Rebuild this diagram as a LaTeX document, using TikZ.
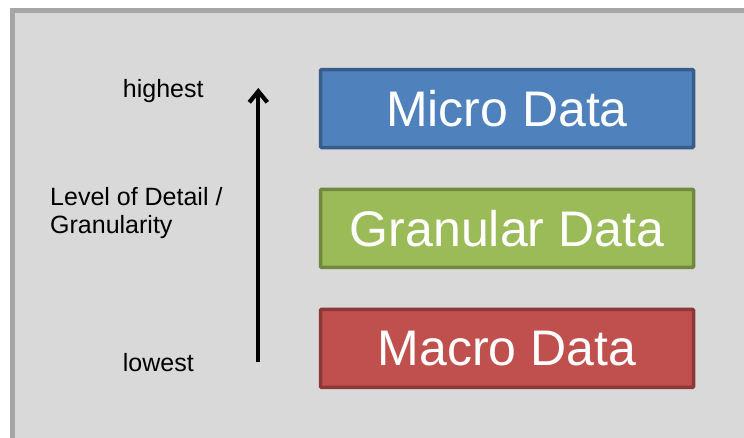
\documentclass[tikz,border=0pt]{standalone}
\usepackage{fontspec}
\setmainfont{Liberation Sans}
\usetikzlibrary{arrows.meta}

\definecolor{panelfill}{HTML}{D9D9D9}
\definecolor{panelline}{HTML}{A6A6A6}
\definecolor{bluefill}{HTML}{4F81BD}
\definecolor{blueline}{HTML}{385D8A}
\definecolor{greenfill}{HTML}{9BBB59}
\definecolor{greenline}{HTML}{71893F}
\definecolor{redfill}{HTML}{C0504D}
\definecolor{redline}{HTML}{8C3836}

\tikzset{
  databox/.style={rectangle, rounded corners=1pt, line width=3.5pt,
    minimum width=373pt, minimum height=78pt, inner sep=0pt,
    text=white, font=\fontsize{50}{56}\selectfont},
  sidelabel/.style={anchor=base west, inner sep=0pt, text=black,
    font=\fontsize{25}{28}\selectfont},
  levelarrow/.style={line width=4.2pt,
    -{Straight Barb[length=11pt, width=18pt]}}
}

\begin{document}
\begin{tikzpicture}[x=1pt, y=-1pt]
  \useasboundingbox (0,0) rectangle (744,437);
  % grey panel, framed on its visible top and left edges
  \begin{scope}
    \clip (0,0) rectangle (744,437);
    \draw[panelline, fill=panelfill, line width=5pt] (12.5,10) rectangle (760,450);
  \end{scope}

  % the three data levels
  \node[databox, fill=bluefill,  draw=blueline]  (micro)    at (507,108.5) {Micro Data};
  \node[databox, fill=greenfill, draw=greenline] (granular) at (507,228.3) {Granular Data};
  \node[databox, fill=redfill,   draw=redline]   (macro)    at (507,348.3) {Macro Data};

  % axis labels
  \node[sidelabel] (highest) at (122.7,97.3) {highest};
  \node[sidelabel] (detail1) at (50,205) {Level of Detail /};
  \node[sidelabel] (detail2) at (50,233) {Granularity};
  \node[sidelabel] (lowest)  at (122.7,371) {lowest};

  % upward arrow for increasing detail
  \coordinate (arrowlow)  at (258.3,362);
  \coordinate (arrowhigh) at (258.3,88);
  \draw[levelarrow] (arrowlow) -- (arrowhigh);
\end{tikzpicture}
\end{document}
